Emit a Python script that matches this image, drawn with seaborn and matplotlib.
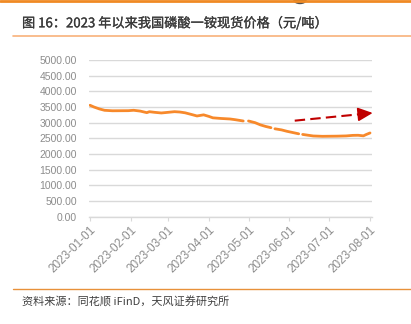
import matplotlib
matplotlib.use("Agg")
import matplotlib.pyplot as plt
import matplotlib.dates as mdates
import matplotlib.patheffects as pe
from matplotlib.patches import Ellipse
import numpy as np
import pandas as pd
import seaborn as sns

# 磷酸一铵现货价格（元/吨），四段之间为无报价日
seg_dates = [
    ["2023-01-01", "2023-01-04", "2023-01-08", "2023-01-12", "2023-01-18",
     "2023-01-30", "2023-02-03", "2023-02-08", "2023-02-13", "2023-02-15",
     "2023-02-19", "2023-02-24", "2023-03-01", "2023-03-06", "2023-03-10",
     "2023-03-14", "2023-03-19", "2023-03-23", "2023-03-28", "2023-04-01",
     "2023-04-04", "2023-04-10", "2023-04-17", "2023-04-21", "2023-04-27"],
    ["2023-05-01", "2023-05-06", "2023-05-10", "2023-05-14", "2023-05-18"],
    ["2023-05-21", "2023-05-26", "2023-05-30", "2023-06-03", "2023-06-08"],
    ["2023-06-11", "2023-06-15", "2023-06-19", "2023-06-26", "2023-07-07",
     "2023-07-14", "2023-07-19", "2023-07-23", "2023-07-27", "2023-07-29",
     "2023-08-01"],
]
seg_prices = [
    [3556, 3500, 3440, 3395, 3380, 3383, 3396, 3370, 3320, 3350,
     3330, 3310, 3330, 3351, 3340, 3315, 3260, 3214, 3250, 3200,
     3155, 3135, 3118, 3095, 3054],
    [3054, 3000, 2930, 2880, 2840],
    [2805, 2770, 2726, 2690, 2645],
    [2625, 2600, 2576, 2565, 2570, 2578, 2595, 2598, 2580, 2620,
     2672],
]
month_ticks = ["2023-01-01", "2023-02-01", "2023-03-01", "2023-04-01",
               "2023-05-01", "2023-06-01", "2023-07-01", "2023-08-01"]
y_ticks = [0, 500, 1000, 1500, 2000, 2500, 3000, 3500, 4000, 4500, 5000]
trend_start = ("2023-06-05", 3064)
trend_end = ("2023-08-03", 3310)

title = "图 16：2023 年以来我国磷酸一铵现货价格（元/吨）"
source = "资料来源：同花顺 iFinD，天风证券研究所"

rows = []
for k, (ds, ps) in enumerate(zip(seg_dates, seg_prices)):
    for d, p in zip(ds, ps):
        rows.append({"date": pd.Timestamp(d), "price": p, "seg": k})
df = pd.DataFrame(rows)

sns.set_theme(style="white")
plt.rcParams["font.family"] = ["Liberation Sans", "Noto Sans CJK SC", "DejaVu Sans"]
cjk = ["Noto Sans CJK SC", "DejaVu Sans"]

W, H = 411, 324
fig = plt.figure(figsize=(W / 100, H / 100), dpi=100)
fig.patch.set_facecolor("white")

ax = fig.add_axes([89 / W, (H - 216.7) / H, (372 - 89) / W, (216.7 - 60) / H])
sns.lineplot(data=df, x="date", y="price", units="seg", estimator=None,
             color="#F7892B", linewidth=2.0, ax=ax, legend=False)

# dashed trend arrow
xs = mdates.date2num(pd.Timestamp(trend_start[0]))
xe = mdates.date2num(pd.Timestamp(trend_end[0]))
ys, ye = trend_start[1], trend_end[1]
frac = 0.87
xm, ym = xs + (xe - xs) * frac, ys + (ye - ys) * frac
ax.plot([xs, xm], [ys, ym], color="#C00000", linewidth=1.5,
        dashes=(5, 2.5), clip_on=False, solid_capstyle="butt")
ax.annotate("", xy=(xe, ye), xytext=(xm, ym),
            arrowprops=dict(arrowstyle="-|>,head_length=0.75,head_width=0.35",
                            color="#C00000", lw=1.2, shrinkA=0, shrinkB=0),
            annotation_clip=False)

ax.set_ylim(0, 5000)
ax.set_yticks(y_ticks)
ax.set_yticklabels([f"{v:.2f}" for v in y_ticks])
x0 = mdates.date2num(pd.Timestamp("2023-01-01")) - 0.76
x1 = mdates.date2num(pd.Timestamp("2023-08-01")) + 1.5
ax.set_xlim(x0, x1)
ax.set_xticks([mdates.date2num(pd.Timestamp(t)) for t in month_ticks])
ax.set_xticklabels(month_ticks)

ax.grid(axis="y", color="#D9D9D9", linewidth=1.0)
ax.grid(axis="x", visible=False)
for s in ["top", "right", "left"]:
    ax.spines[s].set_visible(False)
ax.spines["bottom"].set_color("#D9D9D9")
ax.spines["bottom"].set_linewidth(1.0)
ax.set_xlabel("")
ax.set_ylabel("")
ax.tick_params(axis="y", length=0, pad=8.5, labelsize=7.5, labelcolor="#8C8C8C")
ax.tick_params(axis="x", length=3, width=0.8, color="#D9D9D9", pad=2,
               labelsize=8.5, labelcolor="#8C8C8C", bottom=True)
for lab in ax.get_xticklabels():
    lab.set_rotation(45)
    lab.set_ha("right")
    lab.set_rotation_mode("anchor")

# header and footer decorations
fig.add_artist(plt.Line2D([0, 1], [1 - 1 / H, 1 - 1 / H], transform=fig.transFigure,
                          color="#F08A24", linewidth=2.0))
fig.add_artist(Ellipse((300 / W, 1.0), 12 / W, 7 / H, transform=fig.transFigure,
                       color="#555555"))
fig.text(22 / W, 1 - 23.5 / H, title, fontsize=9.5, fontweight="normal",
         color="#3A3A3A", va="center", ha="left", family=cjk,
         path_effects=[pe.withStroke(linewidth=0.2, foreground="#3A3A3A")])
fig.add_artist(plt.Line2D([13 / W, 1], [1 - 35.5 / H, 1 - 35.5 / H],
                          transform=fig.transFigure, color="#F8B27A", linewidth=1.2))
fig.add_artist(plt.Line2D([13 / W, 1], [1 - 289 / H, 1 - 289 / H],
                          transform=fig.transFigure, color="#E8913A", linewidth=1.0))
fig.text(22 / W, 1 - 302.5 / H, source, fontsize=8, color="#404040",
         va="center", ha="left", family=cjk)

fig.savefig("out.png", dpi=100, facecolor="white")
